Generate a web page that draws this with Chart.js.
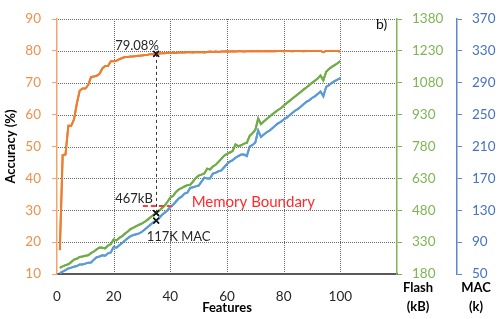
<!DOCTYPE html>
<html>
<head>
<meta charset="utf-8">
<script src="https://cdn.jsdelivr.net/npm/chart.js@4.4.1/dist/chart.umd.min.js"></script>
<style>
html,body{margin:0;padding:0;background:#fff;}
#wrap{width:499px;height:319px;position:relative;}
</style>
</head>
<body>
<div id="wrap"><canvas id="c" width="499" height="319"></canvas></div>
<script>
// ---- data ----
const features = [1,2,3,4,5,6,7,8,9,10,11,12,13,14,15,16,17,18,19,20,21,22,23,24,25,26,27,28,29,30,31,32,33,34,35,36,37,38,39,40,41,42,43,44,45,46,47,48,49,50,51,52,53,54,55,56,57,58,59,60,61,62,63,64,65,66,67,68,69,70,71,72,73,74,75,76,77,78,79,80,81,82,83,84,85,86,87,88,89,90,91,92,93,94,95,96,97,98,99,100];
const accuracy = [17.5,47.3,47.5,56.5,56.5,58.5,63.5,67.5,68.2,68.2,69.3,71.8,72.0,72.2,72.8,74.5,75.3,75.3,76.8,76.8,76.9,77.4,77.8,78.1,78.1,78.3,78.3,78.4,78.5,78.6,78.7,78.8,79.0,79.0,79.08,79.2,79.3,79.3,79.4,79.4,79.5,79.4,79.5,79.6,79.5,79.6,79.6,79.5,79.7,79.6,79.7,79.5,79.7,79.8,79.7,79.8,79.7,79.8,79.8,79.9,79.8,79.9,79.8,79.9,79.9,79.8,79.9,79.9,80.0,79.9,80.0,79.9,79.9,80.0,79.9,80.0,79.9,80.0,80.0,79.9,80.0,80.0,79.9,80.0,80.0,80.0,79.9,80.0,80.0,80.0,80.0,80.0,80.0,79.6,80.0,80.0,80.0,80.0,80.0,79.8];
const flashKB = [209,216,222,226,236,248,252,260,262,266,268,278,286,296,305,304,301,314,321,343,338,350,358,370,380,392,398,405,412,418,426,436,447,458,467,478,490,502,520,540,548,566,578,584,592,598,600,615,632,643,648,653,676,672,686,694,708,722,737,745,752,759,790,782,786,794,797,830,843,858,912,886,898,910,920,932,942,952,960,972,984,994,1005,1016,1026,1037,1048,1058,1069,1080,1090,1100,1115,1092,1132,1145,1155,1163,1172,1183];
const macK = [51,53,55,57,58,59,60,62,62,63,64,64.5,68,71,72,73.4,73,76,77,84,83,86,89,92,95,97.6,99,100,101,103,106,109,112,115,117,120,124,127,130,134,137,141,145,147,151,152,158,159,160,161,166,171,170,170,176,177,179,180,184,188,191,193,196,198,200,200,198,210,212,215,230,222,225,228,230,233,236,239,241,244,246,249,252,255,257,260,263,266,268,271,273,276,279,273,285,287,290,292,294,296];
const xTicks = [0,20,40,60,80,100,120];
const accTicks = [10,20,30,40,50,60,70,80,90];
const flashTicks = [180,330,480,630,780,930,1080,1230,1380];
const macTicks = [50,90,130,170,210,250,290,330,370];
const markFeature = 35;
const markAcc = 79.08;
const markFlash = 467;
const markMac = 117;
const memBoundaryKB = 500;
const memBoundaryFrom = 30.3;
const memBoundaryTo = 41.3;

const FONT = 'Lato, "Noto Sans", sans-serif';
const GRID = '#6a6a6a';
const pts = (ys) => features.map((f,i)=>({x:f,y:ys[i]}));
const plain = (v) => String(v);

const annot = {
  id:'annot',
  afterDatasetsDraw(chart){
    const ctx = chart.ctx, area = chart.chartArea;
    const x = chart.scales.x, yA = chart.scales.yAcc, yF = chart.scales.yFlash, yM = chart.scales.yMac;
    // dotted grid from the library's own scale ticks
    ctx.save();
    ctx.strokeStyle = GRID; ctx.lineWidth = 1; ctx.setLineDash([1,1]);
    for (const v of accTicks) {
      if (v === yA.min) continue;
      const y = Math.round(yA.getPixelForValue(v)) + 0.5;
      ctx.beginPath(); ctx.moveTo(Math.round(area.left)+1, y); ctx.lineTo(area.right-1, y); ctx.stroke();
    }
    for (const v of xTicks) {
      if (v === x.min || v === x.max) continue;
      const xp = Math.round(x.getPixelForValue(v)) + 0.5;
      ctx.beginPath(); ctx.moveTo(xp, Math.round(area.top)); ctx.lineTo(xp, area.bottom-1); ctx.stroke();
    }
    ctx.restore();
    // redraw the series above the grid
    chart.data.datasets.forEach((d,i)=>{ const m = chart.getDatasetMeta(i); if (m && m.controller) m.controller.draw(); });

    const px = x.getPixelForValue(markFeature);
    const pA = yA.getPixelForValue(markAcc);
    const pF = yF.getPixelForValue(markFlash);
    const pM = yM.getPixelForValue(markMac);
    const pB = yF.getPixelForValue(memBoundaryKB);
    ctx.save();
    ctx.setLineDash([3,3]); ctx.strokeStyle='#333'; ctx.lineWidth=1;
    ctx.beginPath(); ctx.moveTo(Math.round(px)+0.5,pA); ctx.lineTo(Math.round(px)+0.5,pF); ctx.stroke();
    ctx.setLineDash([5,3]); ctx.strokeStyle='#FF3B3B'; ctx.lineWidth=2;
    ctx.beginPath(); ctx.moveTo(x.getPixelForValue(memBoundaryFrom),pB); ctx.lineTo(x.getPixelForValue(memBoundaryTo),pB); ctx.stroke();
    ctx.setLineDash([]);
    ctx.textBaseline='middle'; ctx.textAlign='left';
    ctx.fillStyle='#262626'; ctx.font='13px '+FONT;
    ctx.fillText('79.08%', px-41, pA-8);
    ctx.fillText('467kB', px-41, pF-14);
    ctx.fillText('117K MAC', px-9.5, pM+16);
    ctx.fillStyle='#FF2A2A'; ctx.font='15px '+FONT;
    ctx.fillText('Memory Boundary', px+35.5, pB-4);
    ctx.fillStyle='#111'; ctx.font='14px '+FONT;
    ctx.fillText('b)', 376, 24);
    ctx.font='bold 13px '+FONT; ctx.textAlign='center'; ctx.fillStyle='#000';
    ctx.fillText('Flash', yF.left+21, 288);
    ctx.fillText('(kB)', yF.left+21, 307);
    ctx.fillText('MAC', yM.left+19, 288);
    ctx.fillText('(k)', yM.left+19, 307);
    ctx.restore();
  }
};

new Chart(document.getElementById('c'), {
  type:'line',
  data:{datasets:[
    {label:'Accuracy', data:pts(accuracy), yAxisID:'yAcc', borderColor:'#ED7D31', borderWidth:2, pointRadius:0, tension:0, fill:false},
    {label:'Flash', data:pts(flashKB), yAxisID:'yFlash', borderColor:'#70AD47', borderWidth:2, pointRadius:0, tension:0, fill:false},
    {label:'MAC', data:pts(macK), yAxisID:'yMac', borderColor:'#5B9BD5', borderWidth:2, pointRadius:0, tension:0, fill:false},
    {type:'scatter', data:[{x:markFeature,y:markAcc}], yAxisID:'yAcc', pointStyle:'crossRot', pointRadius:4, borderColor:'#111', backgroundColor:'#111', pointBorderWidth:1.5, showLine:false},
    {type:'scatter', data:[{x:markFeature,y:markFlash}], yAxisID:'yFlash', pointStyle:'crossRot', pointRadius:4, borderColor:'#111', backgroundColor:'#111', pointBorderWidth:1.5, showLine:false},
    {type:'scatter', data:[{x:markFeature,y:markMac}], yAxisID:'yMac', pointStyle:'crossRot', pointRadius:4, borderColor:'#111', backgroundColor:'#111', pointBorderWidth:1.5, showLine:false}
  ]},
  options:{
    responsive:false, animation:false,
    layout:{padding:{top:10,left:0,right:0,bottom:0}},
    plugins:{legend:{display:false}, tooltip:{enabled:false}},
    scales:{
      x:{type:'linear', min:0, max:120,
        afterBuildTicks:(s)=>{s.ticks = xTicks.map(v=>({value:v}));},
        afterFit:(s)=>{s.height=45;},
        ticks:{callback:(v)=> v===120 ? '' : plain(v), color:'#262626', font:{family:FONT,size:13.5}, padding:15, maxRotation:0, autoSkip:false},
        grid:{display:true, drawOnChartArea:false, drawTicks:false},
        border:{color:'#595959', width:2},
        title:{display:true, text:'Features', color:'#000', font:{family:FONT,size:13,weight:'bold'}, padding:{top:0,bottom:3}}
      },
      yAcc:{type:'linear', position:'left', min:10, max:90,
        afterBuildTicks:(s)=>{s.ticks = accTicks.map(v=>({value:v}));},
        afterFit:(s)=>{s.width=57;},
        ticks:{callback:plain, color:'#F0904A', font:{family:FONT,size:13.5}, padding:11},
        grid:{display:true, drawOnChartArea:false, tickColor:'#F4A46A', tickLength:5},
        border:{color:'#F4A46A', width:1.5},
        title:{display:true, text:'Accuracy (%)', color:'#000', font:{family:FONT,size:13,weight:'bold'}, padding:{top:3,bottom:0}}
      },
      yFlash:{type:'linear', position:'right', min:180, max:1380,
        afterBuildTicks:(s)=>{s.ticks = flashTicks.map(v=>({value:v}));},
        afterFit:(s)=>{s.width=60;},
        ticks:{callback:plain, color:'#7DB552', font:{family:FONT,size:13.5}, padding:10},
        grid:{drawOnChartArea:false, color:'#7DB552', tickColor:'#7DB552', tickLength:5},
        border:{color:'#7DB552', width:1.5}
      },
      yMac:{type:'linear', position:'right', min:50, max:370,
        afterBuildTicks:(s)=>{s.ticks = macTicks.map(v=>({value:v}));},
        afterFit:(s)=>{s.width=42;},
        ticks:{callback:plain, color:'#4472C4', font:{family:FONT,size:13.5}, padding:10},
        grid:{drawOnChartArea:false, color:'#5B86D0', tickColor:'#5B86D0', tickLength:5},
        border:{color:'#5B86D0', width:1.5}
      }
    }
  },
  plugins:[annot]
});
</script>
</body>
</html>
